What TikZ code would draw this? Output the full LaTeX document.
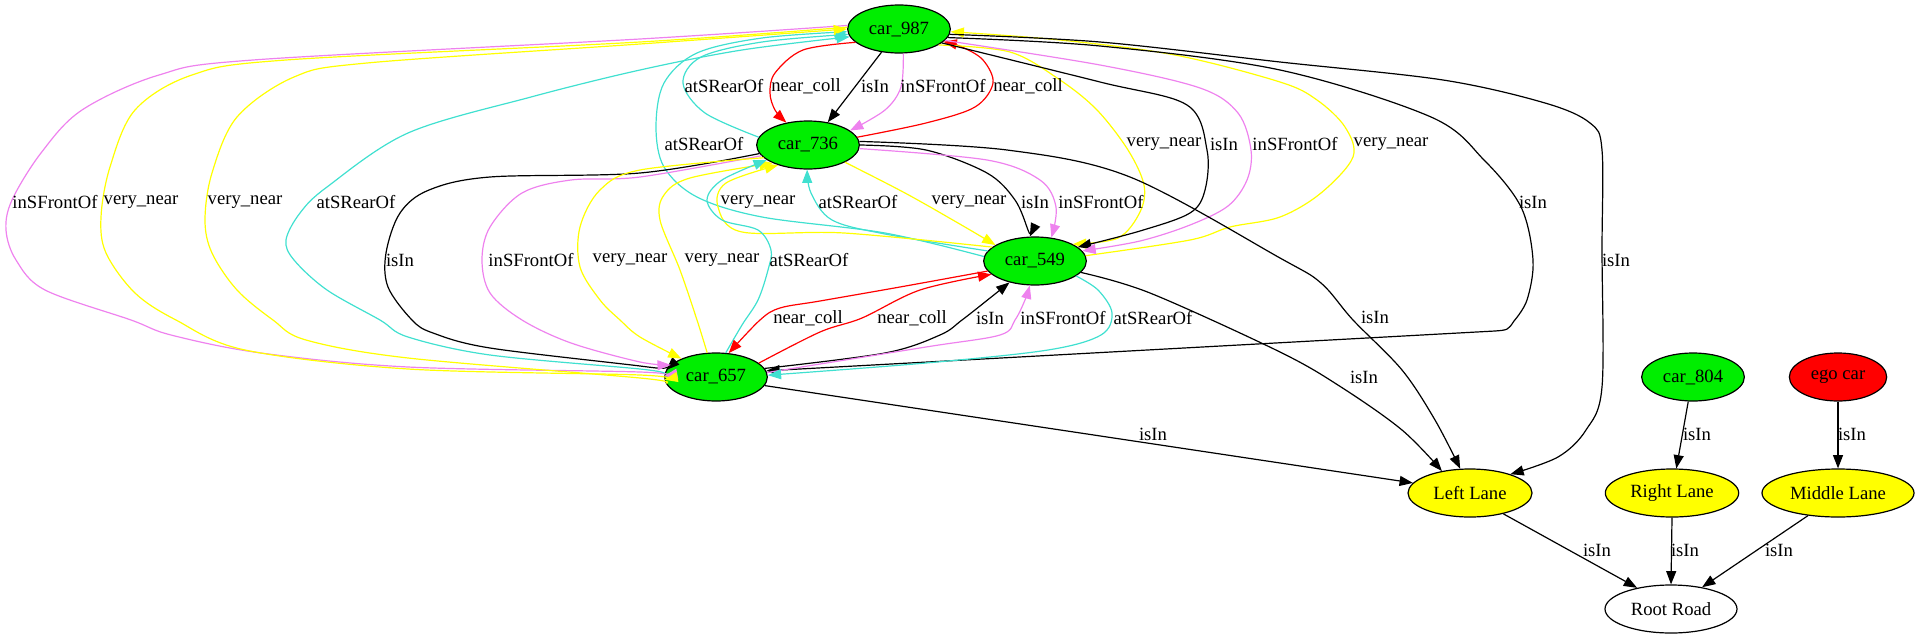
\documentclass[tikz,border=0pt]{standalone}
\usepackage{fontspec}
\setmainfont{Liberation Serif}
\usetikzlibrary{shapes.geometric,arrows.meta}
\definecolor{cgreen}{HTML}{00EE00}
\definecolor{cyel}{HTML}{FFFF00}
\definecolor{cred}{HTML}{FF0000}
\definecolor{cvio}{HTML}{EE82EE}
\definecolor{cturq}{HTML}{40E0D0}
\begin{document}
\begin{tikzpicture}[x=0.75pt,y=-0.75pt,
  font=\fontsize{14pt}{16pt}\selectfont,
  nd/.style={ellipse,draw=black,line width=0.9pt,minimum height=36pt,inner sep=0pt},
  car/.style={nd,fill=cgreen,minimum width=77pt},
  lane/.style={nd,fill=cyel},
  lb/.style={inner sep=0pt},
  ed/.style={line width=0.9pt,-{Triangle[length=10pt,width=7.5pt]}},
  ps/.style={smooth,tension=0.55}]
\useasboundingbox (0,0) rectangle (1919,639);
% nodes
\node[car] (A) at (899,29) {car\_987};
\node[car] (B) at (808,145) {car\_736};
\node[car] (C) at (1035,261) {car\_549};
\node[car] (D) at (716,377) {car\_657};
\node[car] (P) at (1693,377) {car\_804};
\node[nd,fill=cred,minimum width=73pt] (E) at (1838,377) {ego car};
\node[lane,minimum width=93pt] (L) at (1470,493) {Left Lane};
\node[lane,minimum width=100pt] (R) at (1672,493) {Right Lane};
\node[lane,minimum width=114pt] (M) at (1838,493) {Middle Lane};
\node[nd,fill=white,minimum width=99pt] (O) at (1671,609) {Root Road};
% car_987 - car_736
\draw[ed,cred] plot[ps] coordinates {(A.197) (803,50) (775,73) (770,93) (775,110) (B.134)};
\draw[ed,cred] plot[ps] coordinates {(B.9) (926,123) (975,107) (993,83) (983,60) (962,47) (A.344)};
\draw[ed] (A.233) -- (B.49);
\draw[ed,cvio] plot[ps] coordinates {(A.280) (901,87) (885,110) (B.19)};
\draw[ed,cturq] plot[ps] coordinates {(B.171) (705,113) (683,83) (701,57) (762,42) (A.186)};
\draw[ed,cturq] plot[ps] coordinates {(C.175) (885,233) (762,217) (697,197) (664,167) (656,127) (664,83) (697,53) (762,38) (A.183)};
% car_987 - car_549
\draw[ed,cyel] plot[ps] coordinates {(A.338) (1010,52) (1060,80) (1097,110) (1128,150) (1144,185) (1140,212) (1118,238) (C.24)};
\draw[ed,cyel] plot[ps] coordinates {(C.6) (1190,240) (1230,227) (1280,217) (1321,193) (1353,157) (1345,127) (1317,100) (1280,82) (1175,55) (1060,40) (A.357)};
\draw[ed] plot[ps] coordinates {(A.342) (1100,82) (1187,105) (1207,150) (1205,190) (1190,213) (1140,231) (C.18)};
\draw[ed,cvio] plot[ps] coordinates {(A.346) (1100,65) (1200,88) (1238,113) (1251,150) (1247,180) (1228,206) (1190,225) (1140,241) (C.12)};
% car_987 far right
\draw[ed] plot[ps] coordinates {(A.350) (1100,46) (1280,70) (1431,117) (1484,160) (1521,207) (1533,260) (1527,300) (1514,321)} .. controls (1508,330) .. (1495,331) -- (D.7);
\draw[ed] plot[ps] coordinates {(A.354) (1100,42) (1280,62) (1443,80) (1545,103) (1590,123) (1602,150) (1602,250) (1602,387) (1586,430) (1558,457) (L.25)};
% car_736 - car_549
\draw[ed] plot[ps] coordinates {(B.0) (926,150) (987,173) (1015,200) (1028,230) (C.102)};
\draw[ed,cvio] plot[ps] coordinates {(B.356) (987,160) (1040,180) (1056,207) (C.55)};
\draw[ed,cyel] plot[ps] coordinates {(B.335) (905,193) (958,223) (C.158)};
\draw[ed,cturq] plot[ps] coordinates {(C.168) (885,234) (832,220) (811,193) (B.268)};
\draw[ed,cyel] plot[ps] coordinates {(C.162) (844,233) (742,232) (718,207) (726,183) (B.214)};
% to Left Lane
\draw[ed] plot[ps] coordinates {(B.4) (1007,150) (1130,177) (1280,258) (1321,283) (1353,320) (1402,370) (1435,420) (L.112)};
\draw[ed] plot[ps] coordinates {(C.346) (1150,293) (1280,352) (1341,387) (1402,430) (L.142)};
\draw[ed] (D.350) -- (L.170);
% car_736 - car_657
\draw[ed] plot[ps] coordinates {(B.190) (640,173) (490,177) (429,190) (400,213) (386,253) (388,287) (412,320) (433,333) (490,348) (640,366) (D.172)};
\draw[ed,cvio] plot[ps] coordinates {(B.193) (640,177) (571,180) (522,193) (490,227) (482,260) (490,293) (522,320) (571,343) (640,362) (D.165)};
\draw[ed,cyel] plot[ps] coordinates {(B.196) (640,170) (600,190) (580,227) (580,267) (600,300) (620,320) (640,337) (D.152)};
\draw[ed,cyel] plot[ps] coordinates {(D.110) (697,320) (680,270) (660,220) (664,195) (690,178) (B.207)};
\draw[ed,cturq] plot[ps] coordinates {(D.68) (742,325) (758,300) (768,270) (771,250) (758,230) (722,220) (707,200) (722,180) (B.200)};
% car_549 - car_657
\draw[ed,cred] plot[ps] coordinates {(C.192) (900,287) (820,301) (780,308) (760,320) (D.62)};
\draw[ed,cred] plot[ps] coordinates {(D.18) (820,332) (862,318) (920,290) (C.197)};
\draw[ed] plot[ps] coordinates {(D.10) (885,353) (940,335) (962,320) (990,298) (C.220)};
\draw[ed,cvio] plot[ps] coordinates {(D.5) (926,347) (1000,335) (1015,320) (1025,300) (C.258)};
\draw[ed,cturq] plot[ps] coordinates {(C.340) (1098,290) (1112,313) (1101,335) (1048,350) (926,363) (D.2)};
% car_987 - car_657 left
\draw[ed,cvio] plot[ps] coordinates {(A.176) (640,39) (253,60) (159,75) (82,110) (41,153) (12,200) (6,230) (16,260) (45,290) (131,320) (171,335) (261,353) (408,367) (640,372) (D.179)};
\draw[ed,cyel] plot[ps] coordinates {(A.178) (640,42) (286,60) (192,75) (135,110) (110,167) (101,217) (106,253) (135,293) (176,320) (245,350) (408,369) (640,375) (D.183)};
\draw[ed,cyel] plot[ps] coordinates {(D.187) (640,378) (408,358) (306,340) (273,320) (237,290) (212,253) (205,220) (212,173) (237,117) (294,77) (367,63) (640,44) (A.180)};
\draw[ed,cturq] plot[ps] coordinates {(D.176) (640,369) (490,355) (408,337) (380,320) (327,290) (294,260) (286,240) (300,213) (327,187) (408,133) (531,97) (640,70) (742,50) (A.189)};
% lanes and road
\draw[ed] (P.259) -- (R.80);
\draw[ed] (E.270) -- (M.90);
\draw[ed] (L.328) -- (O.148);
\draw[ed] (R.270) -- (O.90);
\draw[ed] (M.217) -- (O.35);
% labels
\node[lb] (l1) at (724,86) {atSRearOf};
\node[lb] (l2) at (806,86) {near\_coll};
\node[lb] (l3) at (875,86) {isIn};
\node[lb] (l4) at (943,86) {inSFrontOf};
\node[lb] (l5) at (1028,86) {near\_coll};
\node[lb] (l6) at (704,144) {atSRearOf};
\node[lb] (l7) at (1164,144) {very\_near};
\node[lb] (l8) at (1224,144) {isIn};
\node[lb] (l9) at (1295,144) {inSFrontOf};
\node[lb] (l10) at (1391,144) {very\_near};
\node[lb] (l11) at (55,202) {inSFrontOf};
\node[lb] (l12) at (141,202) {very\_near};
\node[lb] (l13) at (245,202) {very\_near};
\node[lb] (l14) at (356,202) {atSRearOf};
\node[lb] (l15) at (758,202) {very\_near};
\node[lb] (l16) at (858,202) {atSRearOf};
\node[lb] (l17) at (969,202) {very\_near};
\node[lb] (l18) at (1035,202) {isIn};
\node[lb] (l19) at (1101,202) {inSFrontOf};
\node[lb] (l20) at (1533,202) {isIn};
\node[lb] (l21) at (400,260) {isIn};
\node[lb] (l22) at (531,260) {inSFrontOf};
\node[lb] (l23) at (630,260) {very\_near};
\node[lb] (l24) at (722,260) {very\_near};
\node[lb] (l25) at (809,260) {atSRearOf};
\node[lb] (l26) at (1616,260) {isIn};
\node[lb] (l27) at (808,318) {near\_coll};
\node[lb] (l28) at (912,318) {near\_coll};
\node[lb] (l29) at (990,318) {isIn};
\node[lb] (l30) at (1063,318) {inSFrontOf};
\node[lb] (l31) at (1153,318) {atSRearOf};
\node[lb] (l32) at (1375,317) {isIn};
\node[lb] (l33) at (1364,377) {isIn};
\node[lb] (l34) at (1153,434) {isIn};
\node[lb] (l35) at (1697,434) {isIn};
\node[lb] (l36) at (1852,434) {isIn};
\node[lb] (l37) at (1597,550) {isIn};
\node[lb] (l38) at (1685,550) {isIn};
\node[lb] (l39) at (1779,550) {isIn};
\end{tikzpicture}
\end{document}
